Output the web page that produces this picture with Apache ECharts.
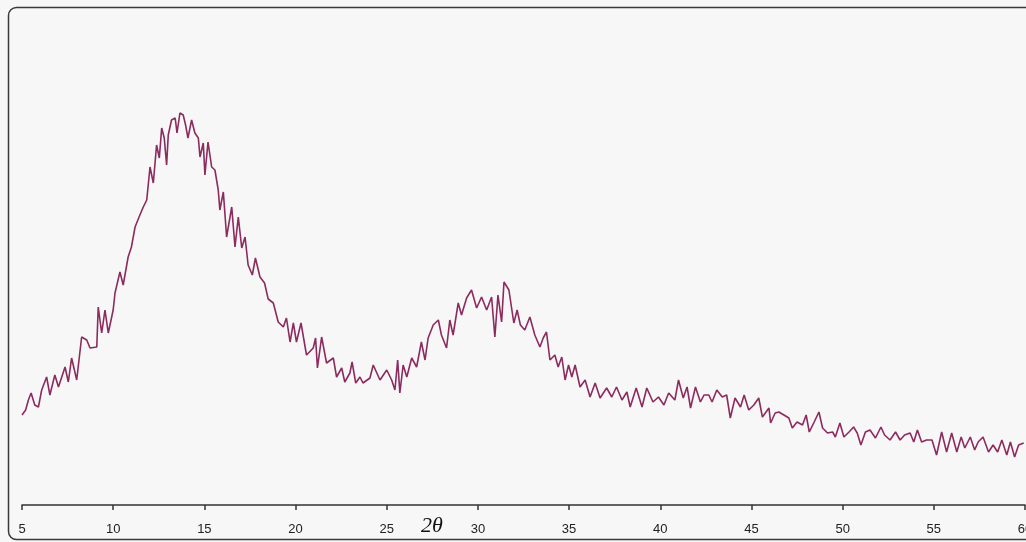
<!DOCTYPE html>
<html>
<head>
<meta charset="utf-8">
<title>XRD pattern</title>
<script src="https://cdn.jsdelivr.net/npm/echarts@6/dist/echarts.min.js"></script>
<style>
  html, body { margin: 0; padding: 0; background: #f7f7f7; overflow: hidden; }
  #chart { width: 1026px; height: 542px; }
</style>
</head>
<body>
<div id="chart"></div>
<script>
// Diffraction angle (2θ, degrees) and intensity (arb. units), in four ranges
const rangeLow = [
  [5.0,90],[5.2,95],[5.35,105],[5.5,112],[5.7,100],[5.9,98],[6.08,115],[6.35,128],[6.53,110],
  [6.8,130],[7.0,118],[7.36,138],[7.54,123],[7.72,147],[8.0,125],[8.27,168],[8.55,165],[8.73,157],
  [9.1,158],[9.18,198],[9.37,172],[9.55,195],[9.73,172],[10.0,195],[10.1,212],[10.37,233],[10.55,220],
  [10.82,248],[11.0,258],[11.2,278],[11.42,288],[11.65,298],[11.84,305],[12.02,338],[12.2,322],
  [12.38,360],[12.53,347],[12.66,377],[12.8,367],[12.93,340],[13.02,370],[13.2,385],[13.4,387],
  [13.5,372],[13.66,392],[13.84,390],[13.97,380],[14.1,367],[14.3,385],[14.48,372],[14.67,367],
  [14.76,348],[14.94,362],[15.03,330],[15.2,363],[15.4,338],[15.58,335],[15.76,315],[15.85,295],
  [16.04,313],[16.22,268],[16.5,298],[16.68,258],[16.86,288],[17.05,257],[17.23,268],[17.4,240],
  [17.63,230],[17.8,247],[18.05,228],[18.3,222]
];
const rangeValley = [
  [18.5,206],[18.78,202],[19.05,183],[19.33,178],[19.5,187],[19.7,163],[19.88,182],[20.05,163],
  [20.3,182],[20.6,150],[20.97,157],[21.1,167],[21.2,137],[21.43,168],[21.7,142],[22.07,147],
  [22.25,128],[22.53,137],[22.7,123],[22.98,132],[23.1,143],[23.3,122],[23.53,128],[23.7,122],
  [24.08,127],[24.26,140],[24.63,125],[25.0,135],[25.27,125],[25.45,115],[25.6,145],[25.72,112],
  [25.9,140],[26.1,128],[26.37,147],[26.64,138],[26.9,163],[27.1,145],[27.27,167],[27.55,180],
  [27.83,185],[28.0,170],[28.28,157],[28.46,185],[28.64,170],[28.92,202],[29.1,190],[29.38,207],
  [29.65,215],[29.93,197],[30.2,208],[30.48,195],[30.75,208],[30.93,168],[31.1,210],[31.3,183],
  [31.43,223],[31.7,215],[31.97,182],[32.15,195]
];
const rangeMid = [
  [32.33,180],[32.57,175],[32.85,188],[33.12,170],[33.4,158],[33.58,167],[33.76,173],[33.95,145],
  [34.22,150],[34.4,138],[34.6,148],[34.78,125],[34.97,140],[35.15,128],[35.33,140],[35.6,118],
  [35.88,125],[36.15,108],[36.43,122],[36.7,107],[37.06,117],[37.34,108],[37.6,118],[37.9,105],
  [38.17,113],[38.35,98],[38.68,117],[39.0,98],[39.26,117],[39.6,103],[39.9,108],[40.2,100],
  [40.46,112],[40.8,105],[41.0,125],[41.26,107],[41.47,118],[41.66,97],[41.93,118],[42.2,103],
  [42.4,110],[42.66,110],[42.84,103],[43.1,115],[43.4,108],[43.64,110],[43.84,87],[44.1,107],
  [44.4,98],[44.6,110],[44.85,95],[45.13,100],[45.4,107],[45.6,88],[45.96,97],[46.05,82]
];
const rangeHigh = [
  [46.3,92],[46.5,93],[46.78,90],[47.05,87],[47.24,77],[47.5,83],[47.8,80],[48.0,90],[48.17,73],
  [48.44,83],[48.7,93],[48.9,77],[49.17,72],[49.45,73],[49.6,68],[49.85,82],[50.07,68],[50.35,73],
  [50.6,78],[50.8,72],[51.0,60],[51.25,73],[51.5,75],[51.8,67],[52.1,78],[52.3,70],[52.6,65],
  [52.9,73],[53.15,65],[53.4,70],[53.7,72],[53.9,63],[54.1,75],[54.33,63],[54.6,65],[54.9,65],
  [55.15,50],[55.43,73],[55.7,53],[55.98,72],[56.26,53],[56.5,68],[56.7,57],[57.0,68],[57.24,55],
  [57.43,63],[57.7,68],[58.0,53],[58.25,60],[58.5,53],[58.73,65],[59.0,50],[59.2,63],[59.43,48],
  [59.65,60],[59.93,62]
];
const xTicks = { min: 5, max: 60, interval: 5 };

const pattern = rangeLow.concat(rangeValley, rangeMid, rangeHigh);

const chart = echarts.init(document.getElementById('chart'), null, { renderer: 'canvas' });
chart.setOption({
  backgroundColor: '#f7f7f7',
  animation: false,
  grid: { left: 22, right: 1, top: 8, bottom: 37, containLabel: false, outerBoundsMode: 'none' },
  xAxis: {
    type: 'value',
    min: xTicks.min,
    max: xTicks.max,
    interval: xTicks.interval,
    axisLine: { show: true, onZero: false, lineStyle: { color: '#333', width: 1.5 } },
    axisTick: { show: true, length: 5, lineStyle: { color: '#333', width: 1.5 } },
    axisLabel: { color: '#222', fontSize: 13, margin: 18, fontFamily: 'Liberation Sans, Arial, sans-serif' },
    splitLine: { show: false }
  },
  yAxis: {
    type: 'value',
    min: 0,
    max: 497,
    show: false,
    splitLine: { show: false }
  },
  graphic: [
    {
      type: 'rect',
      z: -1,
      silent: true,
      shape: { x: 8.5, y: 7.5, width: 1040, height: 532, r: 8 },
      style: { fill: 'none', stroke: '#3a3a3a', lineWidth: 1.5 }
    },
    {
      type: 'text',
      left: 421,
      top: 515,
      style: {
        text: '2θ',
        font: 'italic 22px "Liberation Serif", "DejaVu Serif", serif',
        fill: '#111'
      }
    }
  ],
  series: [{
    type: 'line',
    data: pattern,
    showSymbol: false,
    smooth: false,
    lineStyle: { color: '#8c2b5e', width: 1.6 },
    clip: true
  }]
});
</script>
</body>
</html>
